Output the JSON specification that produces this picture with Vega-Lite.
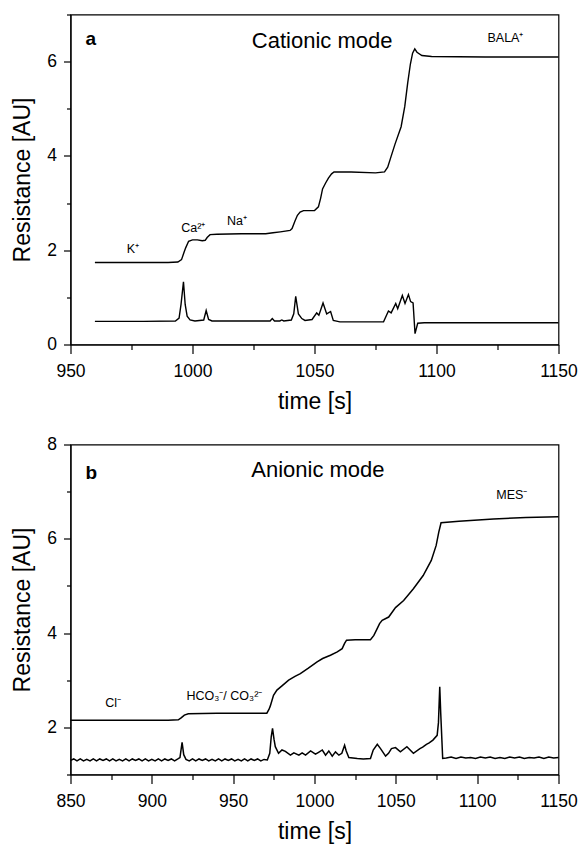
{
  "$schema": "https://vega.github.io/schema/vega-lite/v6.json",
  "padding": {"left": 10.5, "top": 4.5, "right": 0, "bottom": 0},
  "autosize": {"type": "pad"},
  "background": "white",
  "bounds": "flush",
  "spacing": 100,
  "config": {
    "view": {"stroke": "black", "strokeWidth": 1.2},
    "axis": {
      "domainColor": "black", "domainWidth": 1.2,
      "tickColor": "black", "tickWidth": 1.2,
      "labelColor": "black", "titleColor": "black",
      "labelFont": "Liberation Sans", "titleFont": "Liberation Sans",
      "labelFontSize": 17.5, "titleFontSize": 23, "titleFontWeight": "normal",
      "grid": false, "labelFlush": false, "labelOverlap": false, "format": "d"
    },
    "text": {"font": "Liberation Sans", "color": "black"}
  },
  "datasets": {
    "a_lines": [
      {"s":"top","t":960,"v":1.74},{"s":"top","t":975,"v":1.74},{"s":"top","t":990,"v":1.74},{"s":"top","t":994,"v":1.75},{"s":"top","t":995.5,"v":1.8},{"s":"top","t":996.5,"v":1.95},{"s":"top","t":997.2,"v":2.05},{"s":"top","t":998.4,"v":2.19},{"s":"top","t":1000,"v":2.22},{"s":"top","t":1002,"v":2.22},{"s":"top","t":1004,"v":2.2},{"s":"top","t":1005.2,"v":2.21},{"s":"top","t":1006,"v":2.27},{"s":"top","t":1007.2,"v":2.33},{"s":"top","t":1010,"v":2.34},{"s":"top","t":1020,"v":2.35},{"s":"top","t":1030,"v":2.35},{"s":"top","t":1033,"v":2.37},{"s":"top","t":1036,"v":2.39},{"s":"top","t":1040,"v":2.42},{"s":"top","t":1040.8,"v":2.46},{"s":"top","t":1042,"v":2.62},{"s":"top","t":1043,"v":2.74},{"s":"top","t":1044.1,"v":2.81},{"s":"top","t":1045.5,"v":2.84},{"s":"top","t":1050,"v":2.84},{"s":"top","t":1051.6,"v":2.92},{"s":"top","t":1052.5,"v":3.1},{"s":"top","t":1053.3,"v":3.3},{"s":"top","t":1054.5,"v":3.42},{"s":"top","t":1055.7,"v":3.53},{"s":"top","t":1057,"v":3.62},{"s":"top","t":1058,"v":3.66},{"s":"top","t":1065,"v":3.66},{"s":"top","t":1075,"v":3.64},{"s":"top","t":1078.7,"v":3.66},{"s":"top","t":1080,"v":3.76},{"s":"top","t":1081.4,"v":3.99},{"s":"top","t":1083,"v":4.25},{"s":"top","t":1085.5,"v":4.62},{"s":"top","t":1087,"v":5.05},{"s":"top","t":1088.2,"v":5.55},{"s":"top","t":1089.3,"v":5.95},{"s":"top","t":1090.2,"v":6.18},{"s":"top","t":1091.1,"v":6.27},{"s":"top","t":1092,"v":6.2},{"s":"top","t":1094,"v":6.13},{"s":"top","t":1098,"v":6.11},{"s":"top","t":1120,"v":6.1},{"s":"top","t":1150,"v":6.1},
      {"s":"bot","t":960,"v":0.49},{"s":"bot","t":980,"v":0.49},{"s":"bot","t":993,"v":0.5},{"s":"bot","t":994.5,"v":0.56},{"s":"bot","t":995.3,"v":0.85},{"s":"bot","t":996.3,"v":1.33},{"s":"bot","t":997,"v":0.85},{"s":"bot","t":997.8,"v":0.6},{"s":"bot","t":999,"v":0.52},{"s":"bot","t":1001,"v":0.5},{"s":"bot","t":1004.6,"v":0.52},{"s":"bot","t":1005.6,"v":0.72},{"s":"bot","t":1006.6,"v":0.53},{"s":"bot","t":1008,"v":0.5},{"s":"bot","t":1031.8,"v":0.5},{"s":"bot","t":1032.7,"v":0.55},{"s":"bot","t":1033.6,"v":0.5},{"s":"bot","t":1035.8,"v":0.5},{"s":"bot","t":1036.6,"v":0.52},{"s":"bot","t":1037.4,"v":0.5},{"s":"bot","t":1040.5,"v":0.52},{"s":"bot","t":1041.5,"v":0.65},{"s":"bot","t":1042.3,"v":1.02},{"s":"bot","t":1043.4,"v":0.65},{"s":"bot","t":1044.8,"v":0.55},{"s":"bot","t":1046.1,"v":0.51},{"s":"bot","t":1049,"v":0.53},{"s":"bot","t":1050.9,"v":0.67},{"s":"bot","t":1051.8,"v":0.62},{"s":"bot","t":1053.5,"v":0.88},{"s":"bot","t":1055,"v":0.65},{"s":"bot","t":1056.6,"v":0.7},{"s":"bot","t":1057.7,"v":0.51},{"s":"bot","t":1060.4,"v":0.48},{"s":"bot","t":1078.3,"v":0.48},{"s":"bot","t":1080.3,"v":0.71},{"s":"bot","t":1081.4,"v":0.67},{"s":"bot","t":1083.3,"v":0.87},{"s":"bot","t":1084.1,"v":0.76},{"s":"bot","t":1086,"v":1.04},{"s":"bot","t":1087.1,"v":0.87},{"s":"bot","t":1088.5,"v":1.06},{"s":"bot","t":1089.4,"v":0.91},{"s":"bot","t":1090.4,"v":0.88},{"s":"bot","t":1091.2,"v":0.23},{"s":"bot","t":1092.3,"v":0.45},{"s":"bot","t":1095,"v":0.46},{"s":"bot","t":1150,"v":0.46}
    ],
    "b_lines": [
      {"s":"top","t":850,"v":2.15},{"s":"top","t":880,"v":2.15},{"s":"top","t":910,"v":2.15},{"s":"top","t":916.3,"v":2.16},{"s":"top","t":918,"v":2.2},{"s":"top","t":920,"v":2.26},{"s":"top","t":922.4,"v":2.29},{"s":"top","t":940,"v":2.3},{"s":"top","t":960,"v":2.3},{"s":"top","t":970.7,"v":2.3},{"s":"top","t":972,"v":2.38},{"s":"top","t":972.8,"v":2.45},{"s":"top","t":974.8,"v":2.68},{"s":"top","t":976.9,"v":2.79},{"s":"top","t":980,"v":2.88},{"s":"top","t":984.1,"v":3.0},{"s":"top","t":988,"v":3.08},{"s":"top","t":991.3,"v":3.14},{"s":"top","t":996,"v":3.25},{"s":"top","t":1001.6,"v":3.39},{"s":"top","t":1005,"v":3.46},{"s":"top","t":1009.8,"v":3.53},{"s":"top","t":1014,"v":3.6},{"s":"top","t":1017,"v":3.67},{"s":"top","t":1018.5,"v":3.78},{"s":"top","t":1019.7,"v":3.85},{"s":"top","t":1025,"v":3.86},{"s":"top","t":1034.4,"v":3.86},{"s":"top","t":1036.5,"v":3.95},{"s":"top","t":1038.6,"v":4.1},{"s":"top","t":1040,"v":4.2},{"s":"top","t":1041.6,"v":4.27},{"s":"top","t":1045.6,"v":4.34},{"s":"top","t":1049.8,"v":4.54},{"s":"top","t":1054.8,"v":4.69},{"s":"top","t":1060.8,"v":4.94},{"s":"top","t":1066.8,"v":5.22},{"s":"top","t":1071.8,"v":5.54},{"s":"top","t":1074.8,"v":5.86},{"s":"top","t":1076.4,"v":6.14},{"s":"top","t":1077.8,"v":6.34},{"s":"top","t":1088.8,"v":6.37},{"s":"top","t":1110,"v":6.42},{"s":"top","t":1130,"v":6.45},{"s":"top","t":1150,"v":6.47},
      {"s":"bot","t":850,"v":1.3},{"s":"bot","t":852,"v":1.33},{"s":"bot","t":854,"v":1.29},{"s":"bot","t":856,"v":1.33},{"s":"bot","t":858,"v":1.29},{"s":"bot","t":860,"v":1.32},{"s":"bot","t":862,"v":1.29},{"s":"bot","t":864,"v":1.33},{"s":"bot","t":866,"v":1.29},{"s":"bot","t":868,"v":1.33},{"s":"bot","t":870,"v":1.3},{"s":"bot","t":872,"v":1.33},{"s":"bot","t":874,"v":1.29},{"s":"bot","t":876,"v":1.33},{"s":"bot","t":878,"v":1.29},{"s":"bot","t":880,"v":1.32},{"s":"bot","t":882,"v":1.29},{"s":"bot","t":884,"v":1.33},{"s":"bot","t":886,"v":1.29},{"s":"bot","t":888,"v":1.33},{"s":"bot","t":890,"v":1.3},{"s":"bot","t":892,"v":1.33},{"s":"bot","t":894,"v":1.29},{"s":"bot","t":896,"v":1.33},{"s":"bot","t":898,"v":1.29},{"s":"bot","t":900,"v":1.32},{"s":"bot","t":902,"v":1.29},{"s":"bot","t":904,"v":1.33},{"s":"bot","t":906,"v":1.29},{"s":"bot","t":908,"v":1.33},{"s":"bot","t":910,"v":1.3},{"s":"bot","t":912,"v":1.33},{"s":"bot","t":914,"v":1.29},{"s":"bot","t":916,"v":1.33},{"s":"bot","t":917.3,"v":1.36},{"s":"bot","t":918.6,"v":1.68},{"s":"bot","t":919.6,"v":1.42},{"s":"bot","t":921,"v":1.32},{"s":"bot","t":923,"v":1.29},{"s":"bot","t":925,"v":1.33},{"s":"bot","t":927,"v":1.29},{"s":"bot","t":929,"v":1.33},{"s":"bot","t":931,"v":1.3},{"s":"bot","t":933,"v":1.33},{"s":"bot","t":935,"v":1.29},{"s":"bot","t":937,"v":1.32},{"s":"bot","t":939,"v":1.29},{"s":"bot","t":941,"v":1.33},{"s":"bot","t":943,"v":1.29},{"s":"bot","t":945,"v":1.33},{"s":"bot","t":947,"v":1.3},{"s":"bot","t":949,"v":1.33},{"s":"bot","t":951,"v":1.29},{"s":"bot","t":953,"v":1.32},{"s":"bot","t":955,"v":1.29},{"s":"bot","t":957,"v":1.33},{"s":"bot","t":959,"v":1.29},{"s":"bot","t":961,"v":1.33},{"s":"bot","t":963,"v":1.3},{"s":"bot","t":965,"v":1.33},{"s":"bot","t":967,"v":1.29},{"s":"bot","t":969,"v":1.32},{"s":"bot","t":971,"v":1.31},{"s":"bot","t":972.5,"v":1.45},{"s":"bot","t":973.4,"v":1.8},{"s":"bot","t":974.2,"v":1.98},{"s":"bot","t":975.1,"v":1.75},{"s":"bot","t":975.9,"v":1.59},{"s":"bot","t":977.9,"v":1.45},{"s":"bot","t":980,"v":1.52},{"s":"bot","t":982.1,"v":1.49},{"s":"bot","t":985.2,"v":1.41},{"s":"bot","t":987.3,"v":1.46},{"s":"bot","t":990.4,"v":1.41},{"s":"bot","t":992.4,"v":1.46},{"s":"bot","t":994.5,"v":1.41},{"s":"bot","t":997.6,"v":1.5},{"s":"bot","t":1000.6,"v":1.43},{"s":"bot","t":1002.5,"v":1.47},{"s":"bot","t":1004.8,"v":1.52},{"s":"bot","t":1006.8,"v":1.41},{"s":"bot","t":1008.8,"v":1.5},{"s":"bot","t":1010.9,"v":1.39},{"s":"bot","t":1012.9,"v":1.48},{"s":"bot","t":1015,"v":1.41},{"s":"bot","t":1016.8,"v":1.45},{"s":"bot","t":1018.5,"v":1.62},{"s":"bot","t":1019.5,"v":1.5},{"s":"bot","t":1021.1,"v":1.36},{"s":"bot","t":1026.3,"v":1.34},{"s":"bot","t":1030,"v":1.33},{"s":"bot","t":1034.4,"v":1.34},{"s":"bot","t":1036.1,"v":1.52},{"s":"bot","t":1038.6,"v":1.64},{"s":"bot","t":1040.6,"v":1.55},{"s":"bot","t":1043.7,"v":1.39},{"s":"bot","t":1045.5,"v":1.45},{"s":"bot","t":1047.3,"v":1.55},{"s":"bot","t":1049.8,"v":1.57},{"s":"bot","t":1052.8,"v":1.48},{"s":"bot","t":1056.8,"v":1.59},{"s":"bot","t":1060.8,"v":1.45},{"s":"bot","t":1064.8,"v":1.55},{"s":"bot","t":1066.5,"v":1.58},{"s":"bot","t":1068.8,"v":1.64},{"s":"bot","t":1070.5,"v":1.67},{"s":"bot","t":1072.8,"v":1.73},{"s":"bot","t":1075.4,"v":1.83},{"s":"bot","t":1076.2,"v":2.1},{"s":"bot","t":1077,"v":2.86},{"s":"bot","t":1077.6,"v":2.3},{"s":"bot","t":1078.8,"v":1.34},{"s":"bot","t":1081,"v":1.35},{"s":"bot","t":1084,"v":1.37},{"s":"bot","t":1087,"v":1.34},{"s":"bot","t":1090,"v":1.37},{"s":"bot","t":1093,"v":1.35},{"s":"bot","t":1096,"v":1.36},{"s":"bot","t":1099,"v":1.34},{"s":"bot","t":1102,"v":1.37},{"s":"bot","t":1105,"v":1.35},{"s":"bot","t":1108,"v":1.37},{"s":"bot","t":1111,"v":1.34},{"s":"bot","t":1114,"v":1.36},{"s":"bot","t":1117,"v":1.34},{"s":"bot","t":1120,"v":1.37},{"s":"bot","t":1123,"v":1.35},{"s":"bot","t":1126,"v":1.37},{"s":"bot","t":1129,"v":1.34},{"s":"bot","t":1132,"v":1.36},{"s":"bot","t":1135,"v":1.35},{"s":"bot","t":1138,"v":1.37},{"s":"bot","t":1141,"v":1.34},{"s":"bot","t":1144,"v":1.37},{"s":"bot","t":1147,"v":1.35},{"s":"bot","t":1150,"v":1.36}
    ],
    "a_tag": [{"t": 956.1, "v": 6.36, "label": "a"}],
    "a_mode": [{"t": 1024.3, "v": 6.29, "label": "Cationic mode"}],
    "a_ions": [
      {"t": 973.1, "v": 1.94, "label": "K⁺"},
      {"t": 995.4, "v": 2.39, "label": "Ca²⁺"},
      {"t": 1014.1, "v": 2.53, "label": "Na⁺"},
      {"t": 1120.9, "v": 6.41, "label": "BALA⁺"}
    ],
    "b_tag": [{"t": 859.2, "v": 7.27, "label": "b"}],
    "b_mode": [{"t": 961.1, "v": 7.31, "label": "Anionic mode"}],
    "b_ions": [
      {"t": 871.4, "v": 2.43, "label": "Cl⁻"},
      {"t": 921.3, "v": 2.58, "label": "HCO₃⁻/ CO₃²⁻"},
      {"t": 1111.8, "v": 6.85, "label": "MES⁻"}
    ]
  },
  "vconcat": [
    {
      "width": 488, "height": 330,
      "encoding": {
        "x": {"field": "t", "type": "quantitative",
          "scale": {"domain": [950, 1150], "nice": false, "zero": false},
          "axis": {"title": "time [s]",
            "values": [950, 975, 1000, 1025, 1050, 1075, 1100, 1125, 1150],
            "labelExpr": "datum.value % 50 === 0 ? datum.label : ''",
            "tickSize": {"condition": {"test": "datum.value % 50 === 0", "value": 9}, "value": 5},
            "labelPadding": 9, "titlePadding": 10}},
        "y": {"field": "v", "type": "quantitative",
          "scale": {"domain": [0, 7], "nice": false, "zero": false},
          "axis": {"title": "Resistance [AU]",
            "values": [0, 1, 2, 3, 4, 5, 6, 7],
            "labelExpr": "datum.value % 2 === 0 ? datum.label : ''",
            "tickSize": {"condition": {"test": "datum.value % 2 === 0", "value": 7}, "value": 4},
            "labelPadding": 7, "titlePadding": 12.5}}
      },
      "layer": [
        {"data": {"name": "a_lines"}, "mark": {"type": "line", "color": "black", "strokeWidth": 1.4},
          "encoding": {"detail": {"field": "s"}}},
        {"data": {"name": "a_tag"}, "mark": {"type": "text", "fontSize": 19, "fontWeight": "bold", "align": "left", "baseline": "alphabetic"},
          "encoding": {"text": {"field": "label"}}},
        {"data": {"name": "a_mode"}, "mark": {"type": "text", "fontSize": 22, "align": "left", "baseline": "alphabetic"},
          "encoding": {"text": {"field": "label"}}},
        {"data": {"name": "a_ions"}, "mark": {"type": "text", "fontSize": 12.5, "align": "left", "baseline": "alphabetic"},
          "encoding": {"text": {"field": "label"}}}
      ]
    },
    {
      "width": 488, "height": 330,
      "encoding": {
        "x": {"field": "t", "type": "quantitative",
          "scale": {"domain": [850, 1150], "nice": false, "zero": false},
          "axis": {"title": "time [s]",
            "values": [850, 875, 900, 925, 950, 975, 1000, 1025, 1050, 1075, 1100, 1125, 1150],
            "labelExpr": "datum.value % 50 === 0 ? datum.label : ''",
            "tickSize": {"condition": {"test": "datum.value % 50 === 0", "value": 9}, "value": 5},
            "labelPadding": 9, "titlePadding": 10}},
        "y": {"field": "v", "type": "quantitative",
          "scale": {"domain": [1, 8], "nice": false, "zero": false},
          "axis": {"title": "Resistance [AU]",
            "values": [1, 2, 3, 4, 5, 6, 7, 8],
            "labelExpr": "datum.value % 2 === 0 ? datum.label : ''",
            "tickSize": {"condition": {"test": "datum.value % 2 === 0", "value": 7}, "value": 4},
            "labelPadding": 7, "titlePadding": 12.5}}
      },
      "layer": [
        {"data": {"name": "b_lines"}, "mark": {"type": "line", "color": "black", "strokeWidth": 1.5},
          "encoding": {"detail": {"field": "s"}}},
        {"data": {"name": "b_tag"}, "mark": {"type": "text", "fontSize": 19, "fontWeight": "bold", "align": "left", "baseline": "alphabetic"},
          "encoding": {"text": {"field": "label"}}},
        {"data": {"name": "b_mode"}, "mark": {"type": "text", "fontSize": 22, "align": "left", "baseline": "alphabetic"},
          "encoding": {"text": {"field": "label"}}},
        {"data": {"name": "b_ions"}, "mark": {"type": "text", "fontSize": 12.5, "align": "left", "baseline": "alphabetic"},
          "encoding": {"text": {"field": "label"}}}
      ]
    }
  ]
}
